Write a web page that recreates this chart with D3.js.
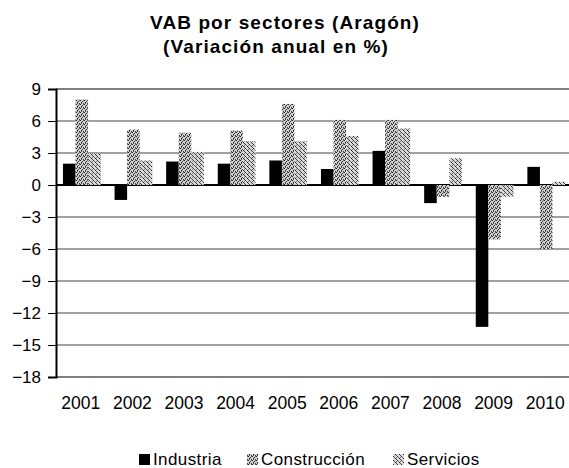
<!DOCTYPE html>
<html>
<head>
<meta charset="utf-8">
<script src="https://cdn.jsdelivr.net/npm/d3@7"></script>
<style>
  body { margin: 0; background: #fff; }
  text { font-family: "Liberation Sans", Arial, sans-serif; fill: #000; }
</style>
</head>
<body>
<div id="chart"></div>
<script>
var years = ["2001", "2002", "2003", "2004", "2005", "2006", "2007", "2008", "2009", "2010"];
var series = ["Industria", "Construcción", "Servicios"];
var industria = [2.0, -1.4, 2.2, 2.0, 2.3, 1.5, 3.2, -1.7, -13.3, 1.7];
var construccion = [8.0, 5.2, 4.9, 5.1, 7.6, 6.1, 6.1, -1.1, -5.1, -6.0];
var servicios = [3.0, 2.3, 3.1, 4.1, 4.1, 4.6, 5.3, 2.5, -1.1, 0.3];
var yTicks = [9, 6, 3, 0, -3, -6, -9, -12, -15, -18];

var width = 569, height = 468;
var margin = { top: 89, right: -3, bottom: 91, left: 56 };

var svg = d3.select("#chart").append("svg")
  .attr("width", width).attr("height", height);

// stipple patterns for the grey bars
var defs = svg.append("defs");
function stipple(id, base, dots) {
  var p = defs.append("pattern").attr("id", id)
    .attr("width", 4).attr("height", 4).attr("patternUnits", "userSpaceOnUse");
  p.append("rect").attr("width", 4).attr("height", 4).attr("fill", base);
  dots.forEach(function (d) {
    p.append("rect").attr("x", d[0]).attr("y", d[1]).attr("width", 1).attr("height", 1).attr("fill", d[2]);
  });
}
stipple("constr", "#d0d0d0", [[0, 0, "#222"], [2, 1, "#333"], [1, 2, "#222"], [3, 3, "#444"], [3, 0, "#666"], [1, 3, "#555"]]);
stipple("serv", "#dadada", [[1, 0, "#333"], [3, 2, "#222"], [0, 3, "#444"], [2, 1, "#666"], [0, 1, "#777"]]);

var colors = ["#000", "url(#constr)", "url(#serv)"];

var x = d3.scaleBand().domain(years)
  .range([margin.left, width - margin.right]).paddingInner(0.27).paddingOuter(0.135);
var xs = d3.scaleBand().domain(series).range([0, x.bandwidth()]);
var y = d3.scaleLinear().domain([-18, 9]).range([height - margin.bottom, margin.top]);

// grid
svg.append("g").selectAll("line").data(yTicks).enter().append("line")
  .attr("x1", margin.left).attr("x2", width)
  .attr("y1", d => y(d)).attr("y2", d => y(d))
  .attr("stroke", d => (d == 0 || d == 9 || d == -18) ? "#000" : "#444")
  .attr("stroke-width", d => d == 0 ? 1.8 : 1.1);

// bars
var vals = [industria, construccion, servicios];
var g = svg.append("g");
years.forEach(function (yr, i) {
  series.forEach(function (s, j) {
    var v = vals[j][i];
    g.append("rect")
      .attr("x", x(yr) + xs(s))
      .attr("y", y(Math.max(0, v)))
      .attr("width", xs.bandwidth())
      .attr("height", Math.abs(y(v) - y(0)))
      .attr("fill", colors[j]);
  });
});

// y axis
var yAxis = svg.append("g")
  .attr("transform", `translate(${margin.left},0)`)
  .call(d3.axisLeft(y).tickValues(yTicks).tickSize(8).tickPadding(7));
yAxis.select(".domain").attr("stroke-width", 2);
yAxis.selectAll("text").style("font-size", "17px");

// x labels
svg.append("g").selectAll("text").data(years).enter().append("text")
  .attr("x", d => x(d) + x.bandwidth() / 2 - 1)
  .attr("y", 409)
  .attr("text-anchor", "middle")
  .style("font-size", "17.5px")
  .text(d => d);

// title
var title = svg.append("text").attr("text-anchor", "middle")
  .style("font-size", "19px").style("font-weight", "bold")
  .style("letter-spacing", "1.1px");
title.append("tspan").attr("x", 285).attr("y", 29).text("VAB por sectores (Aragón)");
title.append("tspan").attr("x", 276).attr("y", 53).text("(Variación anual en %)");

// legend
var legX = [139, 247, 393];
var leg = svg.append("g");
series.forEach(function (s, j) {
  leg.append("rect").attr("x", legX[j]).attr("y", 454)
    .attr("width", 11).attr("height", 11).attr("fill", colors[j]);
  leg.append("text").attr("x", legX[j] + 14).attr("y", 465)
    .style("font-size", "17px").style("letter-spacing", "0.4px").text(s);
});
</script>
</body>
</html>
